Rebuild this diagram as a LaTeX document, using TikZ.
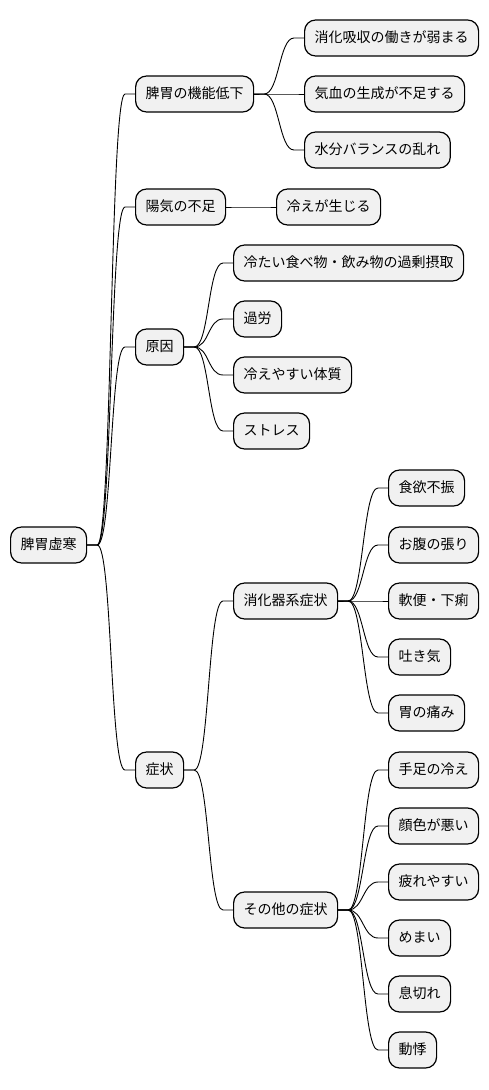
\documentclass[tikz,border=0pt]{standalone}
\usepackage{fontspec}
\newfontfamily\cjk{Noto Sans CJK JP}
\definecolor{boxfill}{HTML}{F1F1F1}
\tikzset{
  mm/.style={draw=black, line width=1.2pt, fill=boxfill, rounded corners=11pt,
    anchor=west, minimum height=36pt, inner xsep=10pt, inner ysep=0pt,
    font=\cjk\fontsize{14}{16}\selectfont, text height=11pt, text depth=2pt},
  link/.style={draw=black, line width=0.9pt}
}
\newcommand\mmlink[2]{\draw[link] (#1.east) -- ++(10,0) .. controls +(15,0) and +(-15,0) .. ([xshift=-10pt]#2.west) -- (#2.west);}
\begin{document}
\begin{tikzpicture}[x=1pt,y=-1pt]
\useasboundingbox (0,0) rectangle (488,1090);
\node[mm] (root) at (10,545) {脾胃虚寒};
\node[mm] (A) at (135,94) {脾胃の機能低下};
\node[mm] (A1) at (304,38) {消化吸収の働きが弱まる};
\node[mm] (A2) at (304,94) {気血の生成が不足する};
\node[mm] (A3) at (304,150) {水分バランスの乱れ};
\node[mm] (B) at (135,207) {陽気の不足};
\node[mm] (B1) at (276,207) {冷えが生じる};
\node[mm] (C) at (135,347) {原因};
\node[mm] (C1) at (233,263) {冷たい食べ物・飲み物の過剰摂取};
\node[mm] (C2) at (233,319) {過労};
\node[mm] (C3) at (233,375) {冷えやすい体質};
\node[mm] (C4) at (233,431) {ストレス};
\node[mm] (D) at (135,770) {症状};
\node[mm] (D1) at (233,601) {消化器系症状};
\node[mm] (D1a) at (388,488) {食欲不振};
\node[mm] (D1b) at (388,545) {お腹の張り};
\node[mm] (D1c) at (388,601) {軟便・下痢};
\node[mm] (D1d) at (388,657) {吐き気};
\node[mm] (D1e) at (388,713) {胃の痛み};
\node[mm] (D2) at (233,910) {その他の症状};
\node[mm] (D2a) at (388,770) {手足の冷え};
\node[mm] (D2b) at (388,826) {顔色が悪い};
\node[mm] (D2c) at (388,882) {疲れやすい};
\node[mm] (D2d) at (388,938) {めまい};
\node[mm] (D2e) at (388,994) {息切れ};
\node[mm] (D2f) at (388,1050) {動悸};
\mmlink{root}{A}\mmlink{root}{B}\mmlink{root}{C}\mmlink{root}{D}
\mmlink{A}{A1}\mmlink{A}{A2}\mmlink{A}{A3}
\mmlink{B}{B1}
\mmlink{C}{C1}\mmlink{C}{C2}\mmlink{C}{C3}\mmlink{C}{C4}
\mmlink{D}{D1}\mmlink{D}{D2}
\mmlink{D1}{D1a}\mmlink{D1}{D1b}\mmlink{D1}{D1c}\mmlink{D1}{D1d}\mmlink{D1}{D1e}
\mmlink{D2}{D2a}\mmlink{D2}{D2b}\mmlink{D2}{D2c}\mmlink{D2}{D2d}\mmlink{D2}{D2e}\mmlink{D2}{D2f}
\end{tikzpicture}
\end{document}
